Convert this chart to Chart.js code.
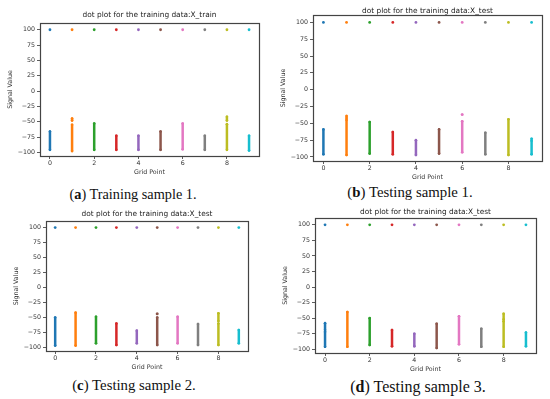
<!DOCTYPE html>
<html>
<head>
<meta charset="utf-8">
<script src="https://cdn.jsdelivr.net/npm/chart.js@4.4.1/dist/chart.umd.min.js"></script>
<style>
  html, body { margin: 0; padding: 0; background: #fff; }
  #page { position: relative; width: 550px; height: 399px; overflow: hidden; background: #fff; }
  .panel { position: absolute; }
  .cap { position: absolute; transform: translate(-50%, -50%); font-family: "Liberation Serif", serif; color: #111; white-space: nowrap; }
  .cap b { font-weight: bold; }
</style>
</head>
<body>
<div id="page"></div>
<script>
// matplotlib tab10 colours, one per grid point
const gridColors = ['#1f77b4', '#ff7f0e', '#2ca02c', '#d62728', '#9467bd',
                    '#8c564b', '#e377c2', '#7f7f7f', '#bcbd22', '#17becf'];
const gridPoints = [0, 1, 2, 3, 4, 5, 6, 7, 8, 9];
const topValue = [100, 100, 100, 100, 100, 100, 100, 100, 100, 100];
const yTicks = [-100, -75, -50, -25, 0, 25, 50, 75, 100];
const xTicks = [0, 2, 4, 6, 8];

// (a) Training sample 1 : vertical runs of dots (grid point, low, high)
const aSegX    = [0, 1, 1, 2, 3, 4, 5, 6, 7, 8, 8, 9];
const aSegLow  = [-96, -98, -48, -96, -96, -96, -96, -95, -96, -96, -48, -97];
const aSegHigh = [-66, -55, -45, -53, -73, -73, -66, -53, -73, -54, -42, -73];
const aDotX = [];
const aDotY = [];

// (b) Testing sample 1
const bSegX    = [0, 1, 2, 3, 4, 5, 6, 7, 8, 9];
const bSegLow  = [-96, -97, -95, -96, -97, -95, -93, -96, -97, -96];
const bSegHigh = [-59, -45, -48, -63, -75, -59, -47, -64, -44, -76];
const bDotX = [1, 1, 6, 9];
const bDotY = [-39, -42, -37, -73];

// (c) Testing sample 2
const cSegX    = [0, 1, 2, 3, 4, 5, 6, 7, 8, 8, 9];
const cSegLow  = [-97, -97, -93, -96, -93, -96, -93, -96, -96, -56, -93];
const cSegHigh = [-50, -42, -49, -60, -72, -50, -49, -61, -60, -43, -71];
const cDotX = [5];
const cDotY = [-44];

// (d) Testing sample 3
const dSegX    = [0, 0, 1, 2, 3, 4, 5, 6, 7, 8, 8, 9];
const dSegLow  = [-96, -69, -96, -93, -95, -95, -98, -92, -96, -96, -52, -95];
const dSegHigh = [-72, -58, -40, -50, -69, -75, -59, -47, -67, -55, -43, -73];
const dDotX = [];
const dDotY = [];

const panels = [
  { title: 'dot plot for the training data:X_train', segX: aSegX, segLow: aSegLow, segHigh: aSegHigh, dotX: aDotX, dotY: aDotY,
    frame: { l: 40, t: 23, r: 259, b: 156 }, titleY: 15, cap: ['a', ' Training sample 1.'], capX: 133, capY: 194, capSize: 14.3 },
  { title: 'dot plot for the training data:X_test', segX: bSegX, segLow: bSegLow, segHigh: bSegHigh, dotX: bDotX, dotY: bDotY,
    frame: { l: 313, t: 15, r: 542, b: 161 }, titleY: 10.7, cap: ['b', ' Testing sample 1.'], capX: 410, capY: 192, capSize: 14.8 },
  { title: 'dot plot for the training data:X_test', segX: cSegX, segLow: cSegLow, segHigh: cSegHigh, dotX: cDotX, dotY: cDotY,
    frame: { l: 46, t: 221, r: 248, b: 351 }, titleY: 214, cap: ['c', ' Testing sample 2.'], capX: 134, capY: 385, capSize: 14.8 },
  { title: 'dot plot for the training data:X_test', segX: dSegX, segLow: dSegLow, segHigh: dSegHigh, dotX: dDotX, dotY: dDotY,
    frame: { l: 315, t: 218, r: 536, b: 353 }, titleY: 212, cap: ['d', ' Testing sample 3.'], capX: 418, capY: 387, capSize: 16 }
];

const page = document.getElementById('page');
const fontFamily = '"DejaVu Sans", sans-serif';
const textColor = '#333';

// matplotlib style box around the axes
const framePlugin = {
  id: 'frame',
  afterDatasetsDraw(chart) {
    const a = chart.chartArea;
    const ctx = chart.ctx;
    ctx.save();
    ctx.strokeStyle = '#444';
    ctx.lineWidth = 1.2;
    ctx.strokeRect(Math.round(a.left) + 0.5, Math.round(a.top) + 0.5,
                   Math.round(a.right - a.left), Math.round(a.bottom - a.top));
    ctx.restore();
  }
};

panels.forEach(p => {
  const f = p.frame;
  const yAxisW = 40, xAxisH = 22, titleH = 16, rightPad = 8;
  const titleSize = 7.4;
  const canvasTop = f.t - titleH;
  const padTop = p.titleY - titleSize / 2 - canvasTop;
  const padBottom = titleH - titleSize - padTop;

  const box = document.createElement('div');
  box.className = 'panel';
  const w = yAxisW + (f.r - f.l) + rightPad;
  const h = titleH + (f.b - f.t) + xAxisH;
  box.style.left = (f.l - yAxisW) + 'px';
  box.style.top = canvasTop + 'px';
  box.style.width = w + 'px';
  box.style.height = h + 'px';
  const canvas = document.createElement('canvas');
  canvas.width = w;
  canvas.height = h;
  box.appendChild(canvas);
  page.appendChild(box);

  const datasets = [];
  // the dots at 100
  datasets.push({
    data: gridPoints.map((x, i) => ({ x: x, y: topValue[i] })),
    pointBackgroundColor: gridColors,
    pointBorderWidth: 0,
    pointRadius: 1.4,
    showLine: false
  });
  // the dense runs of dots, drawn as thick strokes between low and high
  p.segX.forEach((x, i) => {
    datasets.push({
      data: [{ x: x, y: p.segLow[i] }, { x: x, y: p.segHigh[i] }],
      showLine: true,
      borderColor: gridColors[x],
      backgroundColor: gridColors[x],
      borderWidth: 2.5,
      borderCapStyle: 'round',
      pointRadius: 1.3,
      pointBorderWidth: 0
    });
  });
  // isolated dots
  if (p.dotX.length) {
    datasets.push({
      data: p.dotX.map((x, i) => ({ x: x, y: p.dotY[i] })),
      pointBackgroundColor: p.dotX.map(x => gridColors[x]),
      pointBorderWidth: 0,
      pointRadius: 1.5,
      showLine: false
    });
  }

  new Chart(canvas, {
    type: 'scatter',
    data: { datasets: datasets },
    options: {
      responsive: false,
      animation: false,
      layout: { padding: { left: 0, right: rightPad, top: 0, bottom: 0 } },
      plugins: {
        legend: { display: false },
        tooltip: { enabled: false },
        title: {
          display: true,
          fullSize: false,
          text: p.title,
          color: '#222',
          font: { family: fontFamily, size: titleSize, weight: 'normal', lineHeight: 1 },
          padding: { top: padTop, bottom: padBottom }
        }
      },
      scales: {
        x: {
          type: 'linear',
          min: -0.45,
          max: 9.45,
          afterFit(scale) { scale.height = xAxisH; },
          afterBuildTicks(scale) { scale.ticks = xTicks.map(v => ({ value: v })); },
          border: { display: false },
          grid: { drawOnChartArea: false, drawTicks: true, tickLength: 3, color: '#333', lineWidth: 0.8 },
          ticks: { color: textColor, padding: 1, maxRotation: 0, font: { family: fontFamily, size: 6.3 } },
          title: { display: true, text: 'Grid Point', color: textColor, padding: { top: 0, bottom: 2.3 },
                   font: { family: fontFamily, size: 6.3 } }
        },
        y: {
          type: 'linear',
          min: -106,
          max: 111,
          afterFit(scale) { scale.width = yAxisW; },
          afterBuildTicks(scale) { scale.ticks = yTicks.map(v => ({ value: v })); },
          border: { display: false },
          grid: { drawOnChartArea: false, drawTicks: true, tickLength: 3, color: '#333', lineWidth: 0.8 },
          ticks: { color: textColor, padding: 2, font: { family: fontFamily, size: 6.3 },
                   callback: v => String(v).replace('-', '\u2212') },
          title: { display: true, text: 'Signal Value', color: textColor, padding: { top: 6.3, bottom: 0 },
                   font: { family: fontFamily, size: 6.3 } }
        }
      }
    },
    plugins: [framePlugin]
  });

  const cap = document.createElement('div');
  cap.className = 'cap';
  cap.style.left = p.capX + 'px';
  cap.style.top = p.capY + 'px';
  cap.style.fontSize = p.capSize + 'px';
  cap.innerHTML = '(<b>' + p.cap[0] + '</b>)' + p.cap[1];
  page.appendChild(cap);
});
</script>
</body>
</html>
